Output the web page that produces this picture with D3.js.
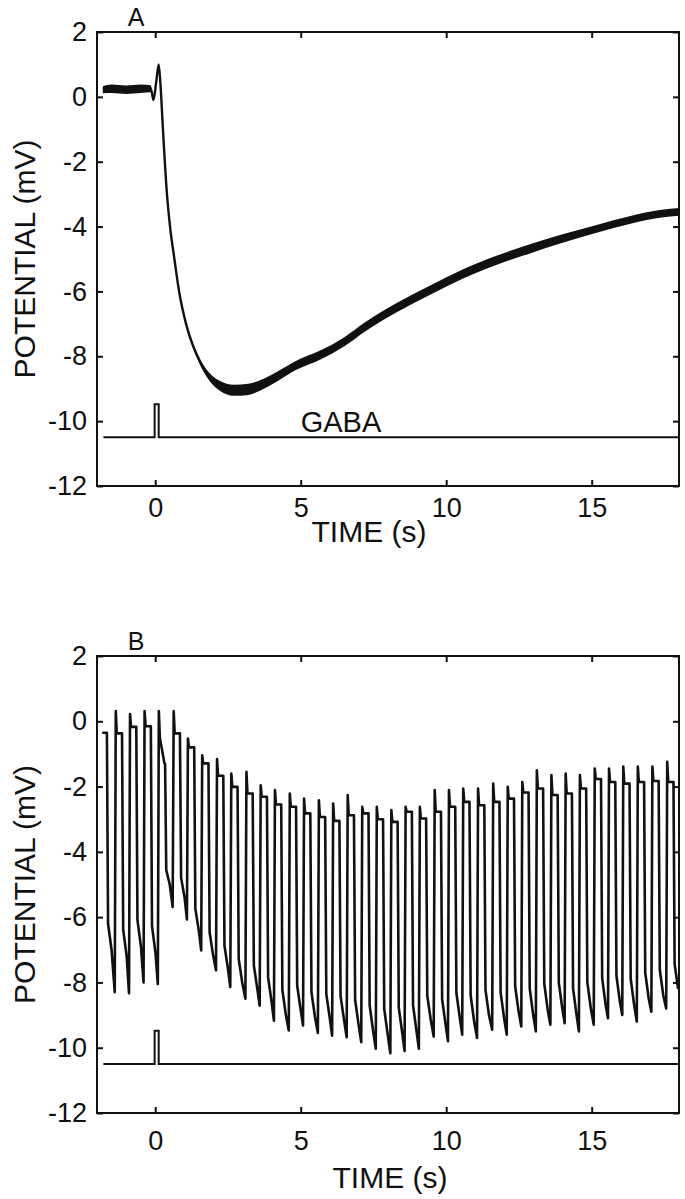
<!DOCTYPE html>
<html><head><meta charset="utf-8">
<script src="https://cdn.jsdelivr.net/npm/d3@7"></script>
<style>body{margin:0;background:#fff}svg{display:block}</style>
</head><body>
<svg id="c" width="685" height="1199"></svg>
<script>
// ---------- shared axis data ----------
const timeTicks = [0, 5, 10, 15];
const potTicks = [2, 0, -2, -4, -6, -8, -10, -12];
const timeDomain = [-2, 18];
const potDomain = [-12, 2];

// ---------- GABA application marker (both panels) ----------
const gabaT = [-1.78, -0.02, -0.02, 0.12, 0.12, 18];
const gabaV = [-10.5, -10.5, -9.48, -9.48, -10.5, -10.5];

// ---------- Panel A : potential trace ----------
const traceA_t = [-1.8,-1.5,-1.0,-0.5,-0.15,-0.06,0.04,0.12,0.18,0.26,0.4,0.51,0.66,0.83,1.06,1.4,1.75,2.2,2.7,3.2,3.6,4.2,4.8,5.7,6.5,7.2,8.3,9.45,10.6,11.7,12.9,14.0,15.2,16.3,17.4,18.0];
const traceA_v = [0.22,0.25,0.22,0.25,0.25,-0.1,0.5,1.0,0.4,-0.9,-2.95,-4.0,-5.0,-6.05,-7.0,-7.9,-8.5,-8.9,-9.05,-9.02,-8.9,-8.62,-8.3,-7.95,-7.55,-7.1,-6.5,-5.96,-5.45,-5.05,-4.68,-4.37,-4.06,-3.8,-3.6,-3.55];
const traceA_noise = [0.11,0.13,0.13,0.13,0.11,0.03,0.02,0.02,0.02,0.02,0.02,0.02,0.02,0.03,0.04,0.07,0.11,0.15,0.17,0.17,0.16,0.15,0.14,0.14,0.14,0.14,0.14,0.14,0.14,0.14,0.14,0.13,0.12,0.12,0.12,0.12];

// ---------- Panel B : oscillating trace, read cycle by cycle ----------
const firstPlateauB = -0.35;      // partial plateau at record start
const firstDownB = -1.64;         // its downstroke time
const upTimesB = [-1.37,-0.88,-0.38,0.11,0.62,1.11,1.60,2.11,2.60,3.12,3.61,4.10,4.61,5.10,5.61,6.10,6.60,7.10,7.60,8.10,8.59,9.08,9.59,10.08,10.57,11.08,11.60,12.10,12.60,13.10,13.60,14.09,14.58,15.09,15.58,16.07,16.57,17.07,17.58];
const peakB = [0.31,0.22,0.31,0.31,0.31,-0.53,-1.04,-1.16,-1.60,-1.55,-1.96,-2.11,-2.21,-2.37,-2.42,-2.52,-2.26,-2.62,-2.62,-2.72,-2.62,-2.62,-2.11,-2.11,-2.06,-2.06,-1.91,-2.01,-1.86,-1.50,-1.65,-1.60,-1.65,-1.45,-1.45,-1.39,-1.39,-1.39,-1.24];
const plateauB = [-0.37,-0.17,-0.15,-0.5,-0.37,-0.8,-1.29,-1.67,-2.01,-2.21,-2.31,-2.55,-2.62,-2.82,-2.93,-3.05,-2.88,-2.82,-3.0,-3.08,-2.77,-2.98,-2.77,-2.62,-2.47,-2.57,-2.47,-2.37,-2.18,-2.06,-2.26,-2.21,-2.06,-1.77,-1.86,-1.91,-1.86,-1.83,-1.86];
const sagCycleB = 3, sagEndB = -1.3;   // plateau sag during GABA pulse
// low phase following each high phase (index 0 = after the partial plateau)
const lowStartB = [-7.0,-7.2,-6.9,-7.1,-5.0,-5.4,-6.42,-7.17,-7.58,-8.0,-8.2,-8.6,-9.0,-8.85,-9.05,-9.1,-9.15,-9.3,-9.5,-9.6,-9.55,-9.5,-9.15,-9.3,-9.1,-9.2,-9.0,-9.1,-8.9,-9.0,-8.85,-8.8,-9.0,-8.8,-8.7,-8.6,-8.7,-8.5,-8.4,-8.2];
const lowTroughB = [-8.3,-8.33,-8.0,-8.05,-5.69,-6.07,-7.02,-7.63,-8.14,-8.5,-8.71,-9.17,-9.47,-9.32,-9.55,-9.63,-9.68,-9.83,-10.03,-10.17,-10.1,-10.03,-9.66,-9.8,-9.6,-9.7,-9.45,-9.6,-9.35,-9.5,-9.3,-9.25,-9.5,-9.3,-9.1,-9.0,-9.2,-8.9,-8.8,-8.6];

// ---------- layout ----------
const xRange = [97, 679];
const panels = [
  {id:'A', top:32, bottom:486, tickPad:12, titleX:369, titleY:542, labelY:26},
  {id:'B', top:656, bottom:1113, tickPad:18, titleX:390, titleY:1188, labelY:650}
];
const FONT = '"Liberation Sans", Arial, Helvetica, sans-serif';
const INK = '#111';
const svg = d3.select('#c');

// waveform of each cycle: fast fall, then slow approach to the low level,
// brief dip to the trough just before the next upstroke
function buildB(){
  const pts = [];
  const rs = -1.82, re = 18.0;
  const lowPhase = (tEnd, from, tFrom, i) => {
    const L = lowStartB[i], T = lowTroughB[i];
    pts.push([tFrom + 0.04, from + 0.88 * (L - from)]);
    pts.push([Math.min(tFrom + 0.16, re), L]);
    if (tEnd > tFrom + 0.2) pts.push([tEnd, T]);
  };
  pts.push([rs, firstPlateauB]);
  pts.push([firstDownB - 0.02, firstPlateauB]);
  lowPhase(upTimesB[0] - 0.02, firstPlateauB, firstDownB - 0.02, 0);
  upTimesB.forEach((s, i) => {
    const pe = (i === sagCycleB) ? sagEndB : plateauB[i];
    pts.push([s + 0.015, peakB[i]]);
    pts.push([s + 0.05, plateauB[i]]);
    pts.push([s + 0.21, pe]);
    pts.push([s + 0.23, pe]);
    const next = (i + 1 < upTimesB.length) ? upTimesB[i + 1] - 0.02 : re;
    lowPhase(Math.min(next, re), pe, s + 0.23, i + 1);
  });
  return pts;
}

panels.forEach(p => {
  const x = d3.scaleLinear().domain(timeDomain).range(xRange);
  const y = d3.scaleLinear().domain(potDomain).range([p.bottom, p.top]);
  const g = svg.append('g');

  // frame
  g.append('rect').attr('x', xRange[0]).attr('y', p.top)
    .attr('width', xRange[1] - xRange[0]).attr('height', p.bottom - p.top)
    .attr('fill', 'none').attr('stroke', INK).attr('stroke-width', 2);

  // axes (inward ticks on all four sides)
  const ax = (gen, tr) => {
    const a = g.append('g').attr('transform', tr).call(gen);
    a.select('.domain').remove();
    a.selectAll('line').attr('stroke', INK).attr('stroke-width', 2);
    a.selectAll('text').attr('fill', INK).style('font-family', FONT).style('font-size', '27px');
    return a;
  };
  const fmt = d => String(d);
  ax(d3.axisBottom(x).tickValues(timeTicks).tickSize(-6).tickPadding(p.tickPad).tickFormat(fmt), `translate(0,${p.bottom})`);
  ax(d3.axisTop(x).tickValues(timeTicks).tickSize(-6).tickFormat(''), `translate(0,${p.top})`);
  ax(d3.axisLeft(y).tickValues(potTicks).tickSize(-6).tickPadding(10).tickFormat(fmt), `translate(${xRange[0]},0)`);
  ax(d3.axisRight(y).tickValues(potTicks).tickSize(-6).tickFormat(''), `translate(${xRange[1]},0)`);

  // titles
  g.append('text').attr('x', p.titleX).attr('y', p.titleY)
    .attr('text-anchor', 'middle').style('font-family', FONT).style('font-size', '30px').attr('fill', INK)
    .text('TIME (s)');
  g.append('text').attr('transform', `translate(35,${(p.top + p.bottom) / 2}) rotate(-90)`)
    .attr('text-anchor', 'middle').style('font-family', FONT).style('font-size', '30px').attr('fill', INK)
    .text('POTENTIAL (mV)');
  g.append('text').attr('x', 136).attr('y', p.labelY).attr('text-anchor', 'middle')
    .style('font-family', FONT).style('font-size', '25px').attr('fill', INK).text(p.id);

  // GABA marker
  const gaba = gabaT.map((t, i) => [t, gabaV[i]]);
  g.append('path').datum(gaba).attr('fill', 'none').attr('stroke', INK).attr('stroke-width', 2)
    .attr('d', d3.line().x(d => x(d[0])).y(d => y(d[1])));

  if (p.id === 'A') {
    const pts = traceA_t.map((t, i) => ({t, v: traceA_v[i], n: traceA_noise[i]}));
    g.append('path').datum(pts).attr('fill', INK)
      .attr('d', d3.area().curve(d3.curveMonotoneX).x(d => x(d.t)).y0(d => y(d.v - d.n)).y1(d => y(d.v + d.n)));
    g.append('path').datum(pts).attr('fill', 'none').attr('stroke', INK).attr('stroke-width', 2.4)
      .attr('stroke-linejoin', 'round')
      .attr('d', d3.line().curve(d3.curveMonotoneX).x(d => x(d.t)).y(d => y(d.v)));
    g.append('text').attr('x', x(5.0)).attr('y', 431.5).style('font-family', FONT)
      .style('font-size', '29px').attr('fill', INK).text('GABA');
  } else {
    const pts = buildB();
    g.append('path').datum(pts).attr('fill', 'none').attr('stroke', INK).attr('stroke-width', 2.6)
      .attr('stroke-linejoin', 'round')
      .attr('d', d3.line().x(d => x(d[0])).y(d => y(d[1])));
  }
});
</script>
</body></html>
